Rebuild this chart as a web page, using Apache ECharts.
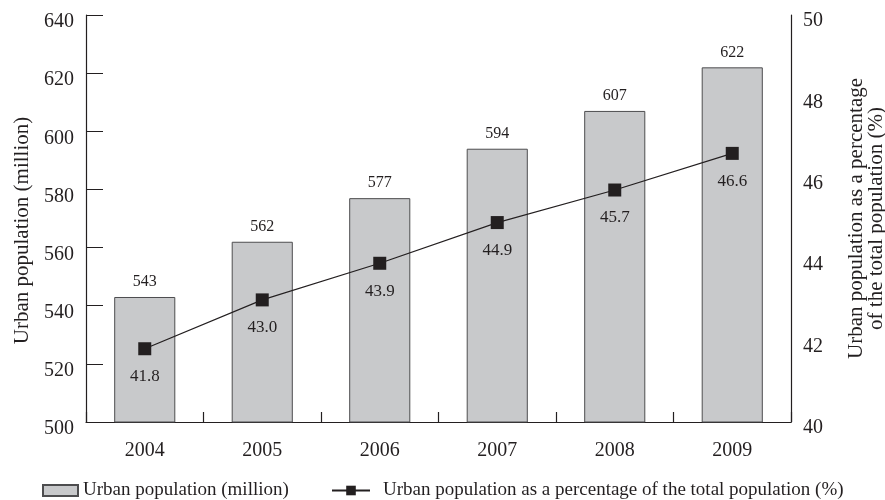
<!DOCTYPE html>
<html>
<head>
<meta charset="utf-8">
<script src="https://cdn.jsdelivr.net/npm/echarts@6/dist/echarts.min.js"></script>
<style>
  html, body { margin: 0; padding: 0; background: #fff; }
  #chart { width: 885px; height: 500px; }
</style>
</head>
<body>
<div id="chart"></div>
<script>
// Urban population in China, 2004-2009
const years = ['2004', '2005', '2006', '2007', '2008', '2009'];
const urbanPopulation = [543, 562, 577, 594, 607, 622];       // million
const urbanShare = [41.8, 43.0, 43.9, 44.9, 45.7, 46.6];      // % of total population

const FONT = '"Liberation Serif", "Times New Roman", serif';
const INK = '#231f20';

const chart = echarts.init(document.getElementById('chart'));

chart.setOption({
  animation: false,
  textStyle: { fontFamily: FONT, color: INK },
  grid: { left: 86, right: 94, top: 15, bottom: 78, containLabel: false, outerBoundsMode: 'none' },
  legend: [
    {
      data: [{ name: 'Urban population (million)', icon: 'rect' }],
      left: 37, top: 476,
      itemWidth: 35, itemHeight: 11,
      textStyle: { fontFamily: FONT, fontSize: 19, color: INK }
    },
    {
      data: ['Urban population as a percentage of the total population (%)'],
      left: 326, top: 476,
      itemWidth: 38, itemHeight: 12,
      textStyle: { fontFamily: FONT, fontSize: 19, color: INK, padding: [0, 0, 0, 8] }
    }
  ],
  xAxis: {
    type: 'category',
    data: years,
    boundaryGap: true,
    axisLine: { lineStyle: { color: INK, width: 1.2 } },
    axisTick: { show: true, inside: true, length: 10, lineStyle: { color: INK, width: 1.2 } },
    axisLabel: { fontFamily: FONT, fontSize: 20, color: INK, margin: 19 }
  },
  yAxis: [
    {
      type: 'value',
      min: 500, max: 640, interval: 20,
      name: 'Urban population (million)',
      nameLocation: 'middle',
      nameGap: 50,
      nameTextStyle: { fontFamily: FONT, fontSize: 21, color: INK, padding: [0, 24, 0, 0] },
      axisLine: { show: true, lineStyle: { color: INK, width: 1.2 } },
      axisTick: { show: true, inside: true, length: 17, lineStyle: { color: INK } },
      axisLabel: {
        fontFamily: FONT, fontSize: 20, color: INK, margin: 12,
        verticalAlign: 'top', lineHeight: 14
      },
      splitLine: { show: false }
    },
    {
      type: 'value',
      min: 40, max: 50, interval: 2,
      position: 'right',
      name: 'Urban population as a percentage\nof the total population (%)',
      nameLocation: 'middle',
      nameGap: 55,
      nameRotate: 90,
      nameTextStyle: { fontFamily: FONT, fontSize: 21, color: INK, lineHeight: 20 },
      axisLine: { show: true, lineStyle: { color: INK, width: 1.2 } },
      axisTick: { show: false },
      axisLabel: {
        fontFamily: FONT, fontSize: 20, color: INK, margin: 12,
        verticalAlign: 'top', lineHeight: 12
      },
      splitLine: { show: false }
    }
  ],
  series: [
    {
      name: 'Urban population (million)',
      type: 'bar',
      data: urbanPopulation,
      barWidth: '52%',
      itemStyle: { color: '#c8c9cb', borderColor: '#4d4d4f', borderWidth: 1 },
      label: {
        show: true, position: 'top', distance: 7,
        fontFamily: FONT, fontSize: 16, color: INK
      }
    },
    {
      name: 'Urban population as a percentage of the total population (%)',
      type: 'line',
      yAxisIndex: 1,
      data: urbanShare,
      symbol: 'rect',
      symbolSize: 13,
      itemStyle: { color: INK },
      lineStyle: { color: INK, width: 1.2 },
      label: {
        show: true, position: 'bottom', distance: 13,
        fontFamily: FONT, fontSize: 17, color: INK,
        formatter: p => p.value.toFixed(1)
      }
    }
  ]
});
</script>
</body>
</html>
